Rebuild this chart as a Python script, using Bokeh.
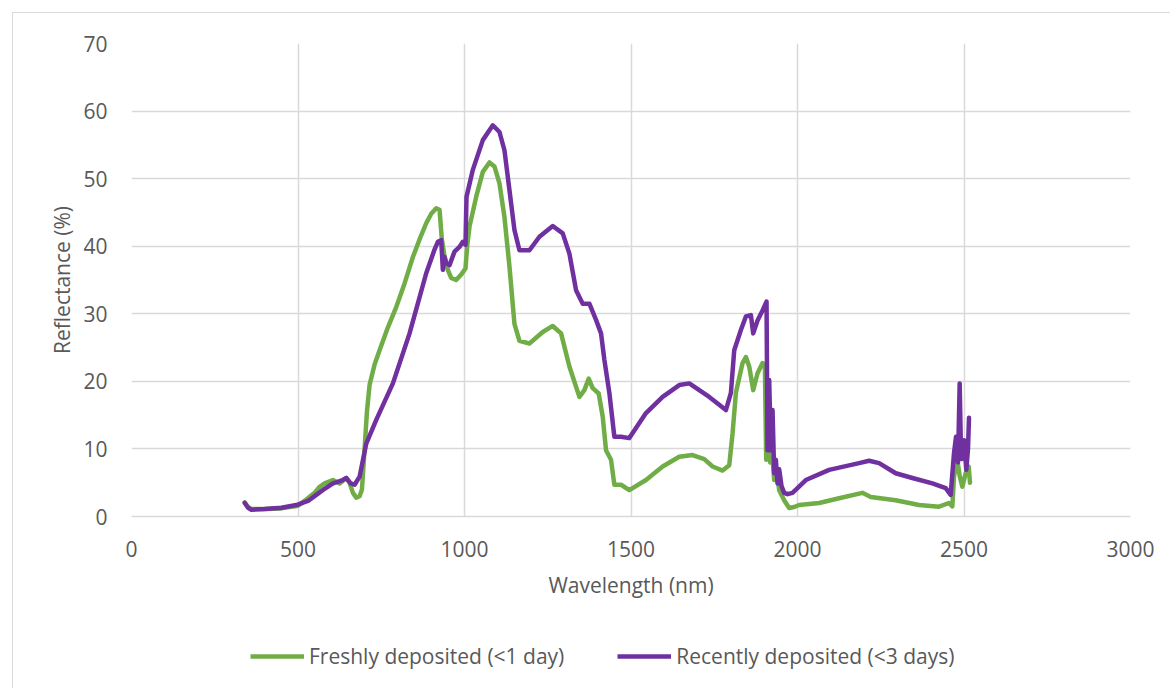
from bokeh.plotting import figure
from bokeh.layouts import column
from bokeh.models import FixedTicker, Legend, LegendItem
from bokeh.embed import file_html
from bokeh.resources import INLINE

# ---- data ----
fresh_wl = [340, 350, 360, 400, 450, 500, 525, 550, 565, 580,
            605, 625, 645, 655, 665, 675, 685, 692, 700, 707,
            715, 730, 745, 770, 795, 820, 845, 865, 885, 900,
            915, 925, 932, 940, 950, 960, 975, 990, 1003, 1008,
            1015, 1035, 1055, 1075, 1090, 1105, 1120, 1135, 1150, 1165,
            1195, 1235, 1265, 1290, 1315, 1345, 1360, 1373, 1385, 1403,
            1415, 1425, 1440, 1450, 1470, 1495, 1545, 1595, 1645, 1685,
            1720, 1745, 1775, 1795, 1805, 1815, 1835, 1845, 1855, 1867,
            1880, 1895, 1902, 1906, 1912, 1918, 1924, 1930, 1938, 1945,
            1960, 1975, 1990, 2005, 2065, 2125, 2195, 2220, 2295, 2365,
            2425, 2455, 2465, 2470, 2480, 2487, 2495, 2505, 2514, 2518]
fresh_r = [2.1, 1.4, 1.1, 1.1, 1.2, 1.6, 2.5, 3.5, 4.4, 4.9,
           5.4, 4.9, 5.7, 5.0, 3.5, 2.8, 3.0, 4.0, 10.0, 15.5,
           19.5, 22.5, 24.6, 28.0, 31.0, 34.5, 38.4, 41.0, 43.4, 44.8,
           45.6, 45.4, 41.0, 38.5, 36.5, 35.3, 35.0, 35.8, 36.7, 40.0,
           42.9, 47.3, 51.0, 52.4, 51.8, 49.3, 44.3, 37.0, 28.5, 26.0,
           25.6, 27.3, 28.2, 27.1, 22.2, 17.7, 18.7, 20.4, 19.0, 18.2,
           14.8, 9.8, 8.4, 4.7, 4.7, 3.9, 5.4, 7.4, 8.85, 9.1,
           8.5, 7.4, 6.8, 7.6, 12.3, 18.3, 22.7, 23.6, 22.2, 18.7,
           21.2, 22.7, 22.5, 8.4, 10.5, 8.0, 9.5, 5.4, 6.5, 3.9,
           2.4, 1.25, 1.4, 1.7, 2.0, 2.7, 3.5, 2.9, 2.4, 1.7,
           1.45, 2.0, 1.5, 5.9, 8.4, 6.0, 4.4, 6.4, 7.4, 5.0]

recent_wl = [340, 350, 360, 400, 450, 495, 530, 555, 580, 605,
             630, 645, 658, 670, 685, 705, 735, 785, 835, 885,
             910, 920, 930, 935, 940, 945, 955, 970, 985, 995,
             1003, 1006, 1025, 1055, 1085, 1105, 1120, 1135, 1150, 1165,
             1195, 1225, 1265, 1295, 1315, 1335, 1355, 1375, 1395, 1410,
             1420, 1435, 1450, 1470, 1495, 1545, 1595, 1645, 1675, 1735,
             1785, 1800, 1810, 1830, 1845, 1860, 1867, 1880, 1895, 1907,
             1910, 1915, 1920, 1925, 1930, 1935, 1940, 1945, 1952, 1960,
             1970, 1985, 2025, 2095, 2185, 2215, 2245, 2295, 2345, 2405,
             2445, 2460, 2470, 2476, 2482, 2487, 2491, 2494, 2500, 2507,
             2512, 2515]
recent_r = [2.0, 1.3, 1.0, 1.1, 1.3, 1.7, 2.3, 3.2, 4.1, 4.9,
            5.3, 5.7, 4.9, 4.7, 5.9, 10.8, 14.3, 19.7, 27.1, 36.0,
            39.5, 40.65, 40.9, 36.5, 38.4, 37.5, 37.2, 39.2, 39.9, 40.65,
            40.2, 47.3, 51.3, 55.7, 57.9, 56.9, 54.2, 48.3, 42.4, 39.4,
            39.4, 41.4, 43.0, 41.9, 38.9, 33.5, 31.5, 31.5, 29.1, 27.1,
            23.2, 18.3, 11.8, 11.8, 11.6, 15.3, 17.7, 19.45, 19.7, 17.7,
            15.75, 18.3, 24.6, 27.6, 29.6, 29.8, 27.1, 29.0, 30.5, 31.8,
            9.8, 20.2, 9.8, 15.75, 6.4, 8.4, 4.9, 7.0, 4.5, 3.5,
            3.3, 3.5, 5.4, 6.9, 7.9, 8.25, 7.9, 6.4, 5.7, 4.9,
            4.2, 3.2, 9.4, 11.8, 8.0, 19.7, 9.4, 8.5, 11.3, 6.9,
            10.0, 14.6]

x_ticks = [0, 500, 1000, 1500, 2000, 2500, 3000]
y_ticks = [0, 10, 20, 30, 40, 50, 60, 70]

series_labels = ["Freshly deposited (<1 day)", "Recently deposited (<3 days)"]
series_colors = ["#70AD47", "#7030A0"]

assert len(fresh_wl) == len(fresh_r)
assert len(recent_wl) == len(recent_r)

FONT = "Open Sans"
FS = "21px"
TXT = "#595959"
GRID = "#D9D9D9"
LW = 4.5

p = figure(width=1157, height=610, x_range=(0, 3000), y_range=(0, 70),
           output_backend="svg", toolbar_location=None,
           min_border_left=118, min_border_right=40,
           min_border_top=30, min_border_bottom=107)
p.outline_line_color = None
p.background_fill_color = "white"
p.border_fill_color = "white"

p.line(fresh_wl, fresh_r, line_color=series_colors[0], line_width=LW,
       line_join="round", line_cap="round")
p.line(recent_wl, recent_r, line_color=series_colors[1], line_width=LW,
       line_join="round", line_cap="round")

p.xaxis.ticker = FixedTicker(ticks=x_ticks)
p.yaxis.ticker = FixedTicker(ticks=y_ticks)
for ax in (p.xaxis[0], p.yaxis[0]):
    ax.major_tick_line_color = None
    ax.minor_tick_line_color = None
    ax.major_label_text_font = FONT
    ax.major_label_text_font_size = FS
    ax.major_label_text_color = TXT
    ax.axis_label_text_font = FONT
    ax.axis_label_text_font_size = FS
    ax.axis_label_text_color = TXT
    ax.axis_label_text_font_style = "normal"
p.xaxis.axis_label = "Wavelength (nm)"
p.yaxis.axis_label = "Reflectance (%)"
p.xaxis.axis_line_color = GRID
p.xaxis.axis_line_width = 1.5
p.yaxis.axis_line_color = None
p.xaxis.major_label_standoff = 18
p.xaxis.axis_label_standoff = 11
p.yaxis.major_label_standoff = 18
p.yaxis.axis_label_standoff = 4

p.xgrid.ticker = FixedTicker(ticks=x_ticks)
p.ygrid.ticker = FixedTicker(ticks=y_ticks)
p.xgrid.grid_line_color = GRID
p.ygrid.grid_line_color = GRID
p.xgrid.grid_line_width = 1.5
p.ygrid.grid_line_width = 1.5

# ---- legend strip (separate figure below the chart) ----
lf = figure(width=1157, height=65, x_range=(-10, -9), y_range=(-10, -9),
            output_backend="svg", toolbar_location=None,
            x_axis_type=None, y_axis_type=None,
            min_border_left=0, min_border_right=0,
            min_border_top=0, min_border_bottom=0)
lf.outline_line_color = None
lf.xgrid.visible = False
lf.ygrid.visible = False
l1 = lf.line(fresh_wl, fresh_r, line_color=series_colors[0], line_width=LW)
l2 = lf.line(recent_wl, recent_r, line_color=series_colors[1], line_width=LW)

legend = Legend(items=[LegendItem(label=series_labels[0], renderers=[l1]),
                       LegendItem(label=series_labels[1], renderers=[l2])],
                location=(119, 18), orientation="horizontal",
                glyph_width=54, glyph_height=20, label_standoff=5,
                padding=0, margin=0, spacing=53,
                border_line_color=None, background_fill_alpha=0,
                label_text_font=FONT, label_text_font_size=FS,
                label_text_color=TXT)
lf.add_layout(legend, "center")

layout = column(p, lf, margin=(12, 0, 0, 12), spacing=0,
                styles={"border-left": "1px solid #D9D9D9",
                        "border-top": "1px solid #D9D9D9"})

open("out.html", "w").write(file_html(layout, INLINE))
